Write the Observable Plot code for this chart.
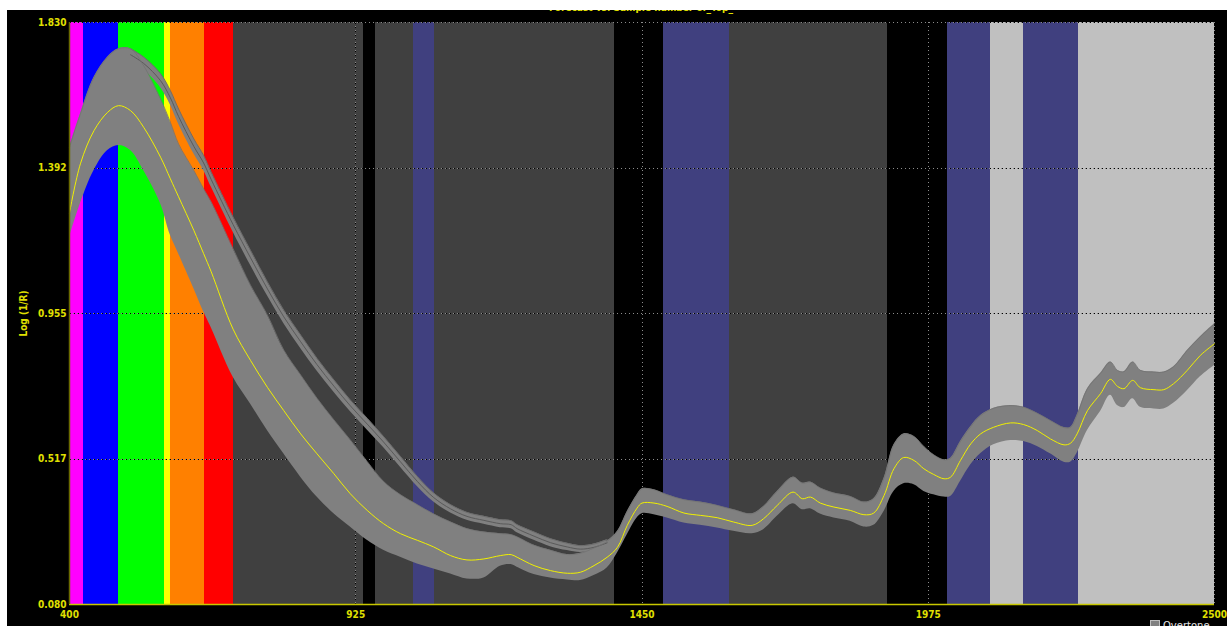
<!DOCTYPE html>
<html><head><meta charset="utf-8">
<script src="https://cdn.jsdelivr.net/npm/d3@7"></script>
<script src="https://cdn.jsdelivr.net/npm/@observablehq/plot@0.6"></script>
<style>
html,body{margin:0;padding:0;background:#fff;width:1227px;height:626px;overflow:hidden}
#wrap{position:absolute;left:7px;top:10px;width:1220px;height:616px;background:#000;overflow:hidden}
#wrap svg{position:absolute;left:0;top:0}
#title{position:absolute;left:0;width:1268px;top:-8px;text-align:center;color:#e0e000;font:bold 10px 'DejaVu Sans Condensed','DejaVu Sans',sans-serif;font-stretch:condensed;z-index:2}
#legend{position:absolute;left:1143px;top:610px;color:#e6e6e6;font:10px 'DejaVu Sans','Liberation Sans',sans-serif;z-index:2;white-space:nowrap}
#legend span.sw{display:inline-block;width:8px;height:8px;background:#808080;border:1px solid #bdbdbd;vertical-align:top;margin-right:3px}
</style></head>
<body>
<div id="wrap">
  <div id="title">Forecast vs. Sample number of_Top_</div>
  <div id="legend"><span class="sw"></span>Overtone</div>
</div>
<script>
// ---- data ----
const xTicks = [400, 925, 1450, 1975, 2500];
const yTicks = [0.080, 0.517, 0.955, 1.392, 1.830];
const yDomain = [0.080, 1.830];
const xDomain = [400, 2500];

const bandStart = [400, 425, 490, 575, 585, 647, 700, 940, 962, 1030, 1070, 1400, 1490, 1610, 1900, 2010, 2090, 2150, 2250];
const bandEnd   = [425, 490, 575, 585, 647, 700, 940, 962, 1030, 1070, 1400, 1490, 1610, 1900, 2010, 2090, 2150, 2250, 2500];
const bandColor = ["#ff00ff","#0000ff","#00ff00","#ffff00","#ff8000","#ff0000","#404040","#000000","#404040","#40407f","#404040","#000000","#40407f","#404040","#000000","#40407f","#c0c0c0","#40407f","#c0c0c0"];

const wavelengths = [400,420,445,470,490,512,536,567,585,600,628,646,660,700,732,763,793,824,854,885,915,946,976,1007,1038,1068,1099,1129,1160,1190,1210,1221,1252,1282,1313,1337,1362,1386,1405,1423,1441,1450,1472,1496,1527,1557,1588,1618,1652,1673,1698,1727,1744,1759,1777,1802,1832,1857,1875,1894,1912,1930,1949,1967,1985,2004,2016,2034,2053,2071,2095,2126,2150,2175,2199,2224,2236,2248,2267,2291,2309,2322,2334,2350,2364,2389,2407,2425,2450,2474,2500];

const meanLog = [1.257,1.405,1.505,1.560,1.580,1.565,1.515,1.425,1.360,1.306,1.205,1.135,1.080,0.908,0.814,0.733,0.663,0.593,0.533,0.473,0.413,0.363,0.323,0.293,0.273,0.253,0.227,0.214,0.217,0.227,0.230,0.222,0.197,0.182,0.174,0.177,0.197,0.222,0.252,0.318,0.370,0.385,0.385,0.375,0.355,0.348,0.341,0.328,0.318,0.338,0.378,0.418,0.398,0.403,0.385,0.373,0.363,0.350,0.355,0.408,0.488,0.522,0.513,0.488,0.471,0.458,0.463,0.513,0.563,0.593,0.613,0.626,0.621,0.603,0.578,0.560,0.565,0.593,0.663,0.714,0.757,0.736,0.729,0.754,0.732,0.726,0.726,0.744,0.784,0.829,0.864];

const minLog = [1.184,1.285,1.385,1.445,1.460,1.445,1.385,1.285,1.190,1.135,1.030,0.960,0.912,0.764,0.683,0.603,0.533,0.463,0.403,0.353,0.313,0.273,0.243,0.222,0.202,0.187,0.172,0.157,0.160,0.195,0.200,0.192,0.170,0.160,0.154,0.152,0.167,0.190,0.235,0.290,0.340,0.353,0.350,0.340,0.325,0.318,0.310,0.300,0.293,0.305,0.345,0.383,0.365,0.368,0.352,0.340,0.330,0.313,0.318,0.360,0.420,0.443,0.440,0.420,0.410,0.403,0.405,0.450,0.500,0.533,0.560,0.573,0.570,0.555,0.533,0.508,0.508,0.535,0.603,0.660,0.709,0.678,0.672,0.699,0.673,0.668,0.668,0.685,0.723,0.765,0.799];

const maxLog = [1.455,1.555,1.665,1.726,1.751,1.751,1.700,1.600,1.530,1.465,1.385,1.330,1.290,1.150,1.040,0.950,0.845,0.770,0.700,0.635,0.575,0.510,0.450,0.410,0.380,0.352,0.328,0.308,0.298,0.293,0.290,0.283,0.258,0.243,0.230,0.234,0.250,0.270,0.300,0.360,0.410,0.428,0.425,0.410,0.395,0.388,0.378,0.365,0.353,0.375,0.420,0.463,0.445,0.448,0.430,0.415,0.405,0.388,0.398,0.460,0.560,0.593,0.585,0.555,0.530,0.515,0.520,0.570,0.615,0.648,0.670,0.678,0.673,0.655,0.633,0.612,0.613,0.650,0.729,0.775,0.809,0.784,0.780,0.809,0.784,0.779,0.779,0.795,0.844,0.885,0.924];

// detached group of high-absorbance spectra (null where merged with main group)
const clusterHigh = [null,null,null,null,null,1.751,1.726,1.676,1.625,1.570,1.480,1.430,1.380,1.245,1.145,1.050,0.965,0.890,0.820,0.755,0.695,0.640,0.585,0.525,0.465,0.415,0.380,0.357,0.345,0.335,0.332,0.320,0.298,0.278,0.264,0.257,0.262,0.275,null,null,null,null,null,null,null,null,null,null,null,null,null,null,null,null,null,null,null,null,null,null,null,null,null,null,null,null,null,null,null,null,null,null,null,null,null,null,null,null,null,null,null,null,null,null,null,null,null,null,null,null,null];
const clusterLow  = [null,null,null,null,null,1.715,1.688,1.634,1.582,1.525,1.435,1.385,1.335,1.200,1.100,1.008,0.925,0.850,0.782,0.718,0.660,0.605,0.552,0.493,0.435,0.388,0.355,0.333,0.321,0.311,0.308,0.296,0.273,0.254,0.242,0.236,0.242,0.256,null,null,null,null,null,null,null,null,null,null,null,null,null,null,null,null,null,null,null,null,null,null,null,null,null,null,null,null,null,null,null,null,null,null,null,null,null,null,null,null,null,null,null,null,null,null,null,null,null,null,null,null,null];

// ---- tables built from the arrays ----
const bands = bandStart.map((s, i) => ({x1: s, x2: bandEnd[i], fill: bandColor[i]}));
const spectra = wavelengths.map((w, i) => ({
  wl: w, mean: meanLog[i], lo: minLog[i], hi: maxLog[i],
  ctop: clusterHigh[i], cbot: clusterLow[i],
  cmid: clusterHigh[i] == null ? NaN : (clusterHigh[i] + clusterLow[i]) / 2
}));

const gridYVals = yTicks.filter(d => d > yDomain[0]);
const gridXVals = xTicks.filter(d => d > xDomain[0]);
const font = "'DejaVu Sans Condensed','DejaVu Sans',sans-serif";

const chart = Plot.plot({
  width: 1220, height: 616,
  marginLeft: 62, marginTop: 12, marginRight: 13, marginBottom: 22,
  style: {background: "#000", color: "#e0e000", fontFamily: font, fontSize: "10px", fontWeight: "bold", fontStretch: "condensed"},
  x: {domain: xDomain},
  y: {domain: yDomain},
  color: {type: "identity"},
  marks: [
    Plot.rect(bands, {x1: "x1", x2: "x2", fill: "fill", shapeRendering: "crispEdges"}),
    Plot.gridY(gridYVals, {stroke: "#000", strokeOpacity: 1, strokeDasharray: "2,2", shapeRendering: "crispEdges"}),
    Plot.gridY(gridYVals, {stroke: "#8c8c8c", strokeOpacity: 1, strokeDasharray: "1,3", shapeRendering: "crispEdges"}),
    Plot.gridX(gridXVals, {stroke: "#000", strokeOpacity: 1, strokeDasharray: "2,2", shapeRendering: "crispEdges"}),
    Plot.gridX(gridXVals, {stroke: "#8c8c8c", strokeOpacity: 1, strokeDasharray: "1,3", shapeRendering: "crispEdges"}),
    Plot.areaY(spectra, {x: "wl", y1: "lo", y2: "hi", fill: "#808080", curve: "catmull-rom"}),
    Plot.areaY(spectra, {x: "wl", y1: "cbot", y2: "ctop", fill: "#808080", curve: "catmull-rom"}),
    Plot.line(spectra, {x: "wl", y: "ctop", stroke: "#6c6c6c", strokeWidth: 1, curve: "catmull-rom"}),
    Plot.line(spectra, {x: "wl", y: "cmid", stroke: "#5a5a5a", strokeWidth: 1, curve: "catmull-rom"}),
    Plot.line(spectra, {x: "wl", y: "hi", stroke: "#727272", strokeWidth: 0.8, curve: "catmull-rom"}),
    Plot.line(spectra, {x: "wl", y: "mean", stroke: "#f0f000", strokeWidth: 1, curve: "catmull-rom"}),
    Plot.ruleY([yDomain[0]], {stroke: "#c8c800", strokeWidth: 1.5}),
    Plot.ruleX([xDomain[0]], {stroke: "#6a6a00", strokeWidth: 1.5}),
    Plot.axisX(xTicks, {tickSize: 0, tickPadding: 6, tickFormat: d => String(d), label: "Wavelengths", labelAnchor: "center", labelArrow: "none", labelOffset: 30, fill: "#e0e000"}),
    Plot.axisY(yTicks, {tickSize: 0, tickPadding: 3, tickFormat: d => d.toFixed(3), label: "Log (1/R)", labelAnchor: "center", labelArrow: "none", labelOffset: 50, fill: "#e0e000"})
  ]
});
document.getElementById("wrap").appendChild(chart);
</script>
</body></html>
